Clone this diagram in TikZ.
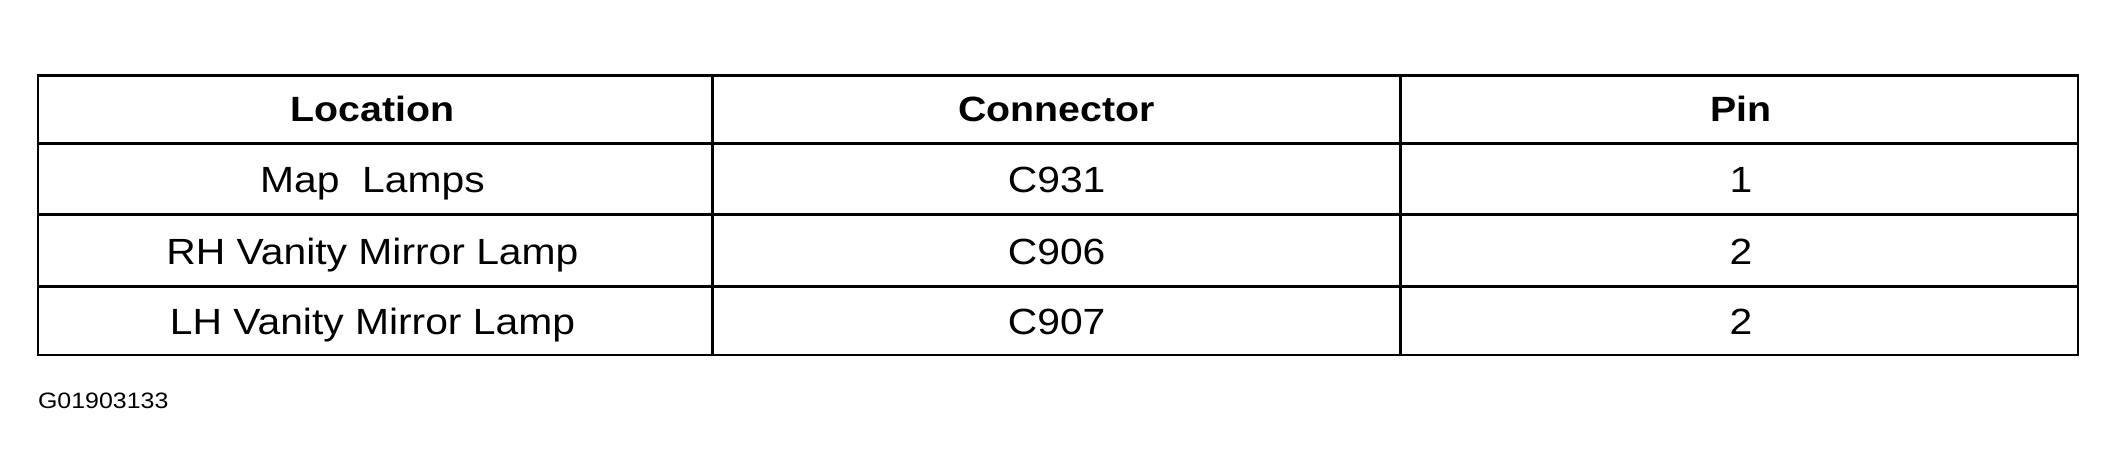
\documentclass[tikz,border=0pt]{standalone}
\usepackage{fontspec}
\setmainfont{Liberation Sans}[FakeStretch=1.12]
\begin{document}
\begin{tikzpicture}[x=1pt,y=-1pt,
  cell/.style={font=\fontsize{27}{30}\selectfont, anchor=base, inner sep=0},
  head/.style={cell, font=\fontsize{26}{30}\selectfont\bfseries},
  grid/.style={line width=2.2pt}]
\useasboundingbox (0,0) rectangle (1568,352);
\draw[line width=1.6pt] (28,56) rectangle (1540,263);
\draw[grid] (528,56) -- (528,263);
\draw[grid] (1038,56) -- (1038,263);
\draw[grid] (28,106) -- (1540,106);
\draw[grid] (28,159) -- (1540,159);
\draw[grid] (28,212) -- (1540,212);
\node[head] (h1) at (276,90) {Location};
\node[head] (h2) at (783,90) {Connector};
\node[head] (h3) at (1290,90) {Pin};
\node[cell] (a1) at (276,143) {Map\ \ Lamps};
\node[cell] (b1) at (783,143) {C931};
\node[cell] (c1) at (1290,143) {1};
\node[cell] (a2) at (276,196) {RH Vanity Mirror Lamp};
\node[cell] (b2) at (783,196) {C906};
\node[cell] (c2) at (1290,196) {2};
\node[cell] (a3) at (276,248) {LH Vanity Mirror Lamp};
\node[cell] (b3) at (783,248) {C907};
\node[cell] (c3) at (1290,248) {2};
\node[anchor=west, inner sep=0, font=\fontsize{16.5}{18}\selectfont] (lab) at (28,297) {G01903133};
\end{tikzpicture}
\end{document}
